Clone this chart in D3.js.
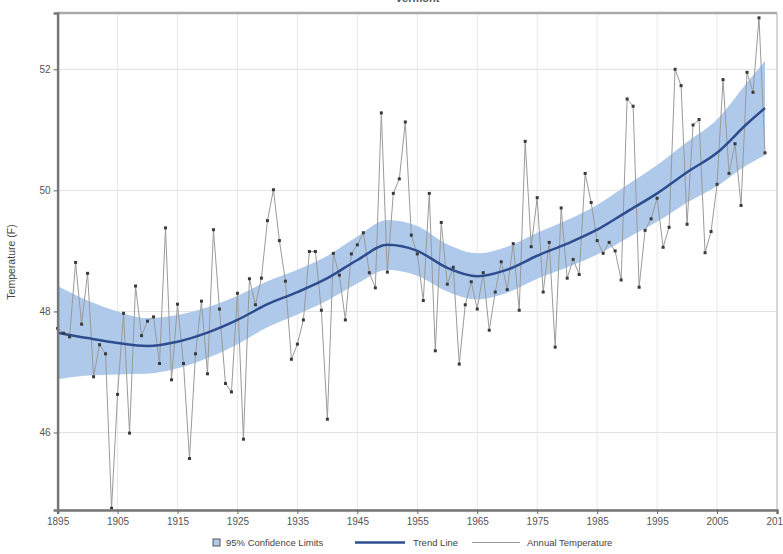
<!DOCTYPE html>
<html>
<head>
<meta charset="utf-8">
<script src="https://cdn.jsdelivr.net/npm/d3@7"></script>
<style>
  body { margin: 0; background: #fff; }
  svg { font-family: "Liberation Sans", Arial, sans-serif; }
</style>
</head>
<body>
<svg id="chart" width="783" height="554"></svg>
<script>
// Annual temperature (F), 1895-2013
const years = [
  1895, 1896, 1897, 1898, 1899, 1900, 1901, 1902, 1903, 1904,
  1905, 1906, 1907, 1908, 1909, 1910, 1911, 1912, 1913, 1914,
  1915, 1916, 1917, 1918, 1919, 1920, 1921, 1922, 1923, 1924,
  1925, 1926, 1927, 1928, 1929, 1930, 1931, 1932, 1933, 1934,
  1935, 1936, 1937, 1938, 1939, 1940, 1941, 1942, 1943, 1944,
  1945, 1946, 1947, 1948, 1949, 1950, 1951, 1952, 1953, 1954,
  1955, 1956, 1957, 1958, 1959, 1960, 1961, 1962, 1963, 1964,
  1965, 1966, 1967, 1968, 1969, 1970, 1971, 1972, 1973, 1974,
  1975, 1976, 1977, 1978, 1979, 1980, 1981, 1982, 1983, 1984,
  1985, 1986, 1987, 1988, 1989, 1990, 1991, 1992, 1993, 1994,
  1995, 1996, 1997, 1998, 1999, 2000, 2001, 2002, 2003, 2004,
  2005, 2006, 2007, 2008, 2009, 2010, 2011, 2012, 2013,
];
const temps = [
  47.72, 47.64, 47.58, 48.81, 47.79, 48.63, 46.92, 47.45, 47.30, 44.75,
  46.63, 47.97, 45.99, 48.42, 47.60, 47.84, 47.91, 47.14, 49.38, 46.87,
  48.12, 47.14, 45.57, 47.30, 48.17, 46.97, 49.35, 48.04, 46.81, 46.67,
  48.30, 45.89, 48.54, 48.11, 48.55, 49.50, 50.01, 49.17, 48.50, 47.21,
  47.46, 47.86, 48.99, 48.99, 48.02, 46.22, 48.96, 48.60, 47.86, 48.95,
  49.10, 49.30, 48.64, 48.39, 51.28, 48.65, 49.95, 50.19, 51.13, 49.26,
  48.95, 48.18, 49.95, 47.35, 49.47, 48.45, 48.73, 47.13, 48.11, 48.49,
  48.04, 48.64, 47.69, 48.32, 48.82, 48.36, 49.12, 48.02, 50.81, 49.07,
  49.88, 48.32, 49.14, 47.41, 49.71, 48.55, 48.86, 48.61, 50.28, 49.80,
  49.17, 48.96, 49.14, 49.00, 48.52, 51.51, 51.39, 48.40, 49.34, 49.53,
  49.87, 49.06, 49.39, 52.00, 51.73, 49.44, 51.08, 51.17, 48.97, 49.32,
  50.10, 51.83, 50.28, 50.77, 49.75, 51.95, 51.62, 52.85, 50.62,
];

// Trend line and 95% confidence limits, read every 5 years
const trendYears = [
  1895, 1900, 1905, 1910, 1915, 1920, 1925, 1930, 1935, 1940, 1945, 1950,
  1955, 1960, 1965, 1970, 1975, 1980, 1985, 1990, 1995, 2000, 2005, 2010, 2013,
];
const trend = [
  47.65, 47.56, 47.48, 47.43, 47.50, 47.65, 47.86, 48.12, 48.32, 48.55, 48.85, 49.10,
  49.00, 48.72, 48.58, 48.69, 48.92, 49.12, 49.35, 49.65, 49.95, 50.30, 50.62, 51.10, 51.36,
];
const lower = [
  46.88, 46.94, 46.96, 46.97, 47.06, 47.23, 47.46, 47.74, 47.95, 48.18, 48.46, 48.69,
  48.59, 48.33, 48.20, 48.31, 48.54, 48.73, 48.94, 49.21, 49.48, 49.80, 50.07, 50.42, 50.58,
];
const upper = [
  48.42, 48.18, 48.00, 47.89, 47.94, 48.07, 48.26, 48.50, 48.69, 48.92, 49.24, 49.51,
  49.41, 49.11, 48.96, 49.07, 49.30, 49.51, 49.76, 50.09, 50.42, 50.80, 51.17, 51.78, 52.14,
];

const xTicks = [1895, 1905, 1915, 1925, 1935, 1945, 1955, 1965, 1975, 1985, 1995, 2005, 2015];
const yTicks = [46, 48, 50, 52];

const width = 783,
  height = 554;
const margin = { top: 13, right: 6, bottom: 44, left: 57.6 },
  chart_width = width - margin.left - margin.right,
  chart_height = height - margin.top - margin.bottom;

const svg = d3.select("#chart");

// Título (recortado arriba, como en la imagen)
svg
  .append("text")
  .attr("x", margin.left + chart_width / 2)
  .attr("y", 2)
  .attr("text-anchor", "middle")
  .style("font-size", "11px")
  .style("font-weight", "bold")
  .attr("fill", "#555")
  .text("Vermont");

const g = svg
  .append("g")
  .attr("transform", `translate(${margin.left}, ${margin.top})`);

const x = d3.scaleLinear().domain([1895, 2015]).range([0, chart_width]);
const y = d3.scaleLinear().domain([44.72, 52.93]).range([chart_height, 0]);

// Rejilla
g.append("g")
  .selectAll("line")
  .data(xTicks)
  .join("line")
  .attr("x1", (d) => x(d))
  .attr("x2", (d) => x(d))
  .attr("y1", 0)
  .attr("y2", chart_height)
  .attr("stroke", "#e8e8e8");
g.append("g")
  .selectAll("line")
  .data(yTicks)
  .join("line")
  .attr("x1", 0)
  .attr("x2", chart_width)
  .attr("y1", (d) => y(d))
  .attr("y2", (d) => y(d))
  .attr("stroke", "#e2e2e2");

// Banda de confianza
const band = d3
  .area()
  .x((d, i) => x(trendYears[i]))
  .y0((d, i) => y(lower[i]))
  .y1((d, i) => y(upper[i]))
  .curve(d3.curveMonotoneX);
g.append("path")
  .datum(trendYears)
  .attr("d", band)
  .attr("fill", "#aec9ea");

// Temperatura anual
const line = d3
  .line()
  .x((d, i) => x(years[i]))
  .y((d) => y(d));
g.append("path")
  .datum(temps)
  .attr("d", line)
  .attr("fill", "none")
  .attr("stroke", "#9a9a9a")
  .attr("stroke-width", 1);

// Línea de tendencia
const trendLine = d3
  .line()
  .x((d, i) => x(trendYears[i]))
  .y((d) => y(d))
  .curve(d3.curveMonotoneX);
g.append("path")
  .datum(trend)
  .attr("d", trendLine)
  .attr("fill", "none")
  .attr("stroke", "#2e4d8f")
  .attr("stroke-width", 2.5);

// Marcadores
g.append("g")
  .selectAll("rect")
  .data(temps)
  .join("rect")
  .attr("x", (d, i) => x(years[i]) - 1.5)
  .attr("y", (d) => y(d) - 1.5)
  .attr("width", 3)
  .attr("height", 3)
  .attr("fill", "#3a3a3a");

// Marco
g.append("rect")
  .attr("width", chart_width)
  .attr("height", chart_height)
  .attr("fill", "none")
  .attr("stroke", "#bbb")
  .attr("stroke-width", 1);
g.append("line")
  .attr("x1", 0).attr("x2", chart_width)
  .attr("y1", 0).attr("y2", 0)
  .attr("stroke", "#aaa")
  .attr("stroke-width", 2.5);

// Ejes
const xAxis = g
  .append("g")
  .attr("transform", `translate(0, ${chart_height})`)
  .call(d3.axisBottom(x).tickValues(xTicks).tickFormat(d3.format("d")).tickSize(4).tickPadding(4));
const yAxis = g
  .append("g")
  .call(d3.axisLeft(y).tickValues(yTicks).tickSize(4).tickPadding(3));
[xAxis, yAxis].forEach((a) => {
  a.select(".domain").attr("stroke", "#777").attr("stroke-width", 2.5);
  a.selectAll(".tick line").attr("stroke", "#666");
  a.selectAll("text").attr("fill", "#555").style("font-size", "10px");
});

// Rótulo eje Y
svg
  .append("text")
  .attr("transform", "rotate(-90)")
  .attr("x", -262)
  .attr("y", 15)
  .attr("text-anchor", "middle")
  .attr("fill", "#444")
  .style("font-size", "10.5px")
  .text("Temperature (F)");

// Leyenda
const legend = svg.append("g").style("font-size", "9.5px").attr("fill", "#444");
const ly = 546;
legend
  .append("rect")
  .attr("x", 213).attr("y", ly - 7)
  .attr("width", 7).attr("height", 7)
  .attr("fill", "#aec9ea")
  .attr("stroke", "#555");
legend.append("text").attr("x", 226).attr("y", ly).text("95% Confidence Limits");
legend
  .append("line")
  .attr("x1", 355).attr("x2", 405)
  .attr("y1", ly - 3.5).attr("y2", ly - 3.5)
  .attr("stroke", "#2e4d8f").attr("stroke-width", 2.5);
legend.append("text").attr("x", 413).attr("y", ly).text("Trend Line");
legend
  .append("line")
  .attr("x1", 472).attr("x2", 520)
  .attr("y1", ly - 3.5).attr("y2", ly - 3.5)
  .attr("stroke", "#9a9a9a").attr("stroke-width", 1);
legend.append("text").attr("x", 527).attr("y", ly).text("Annual Temperature");
</script>
</body>
</html>
